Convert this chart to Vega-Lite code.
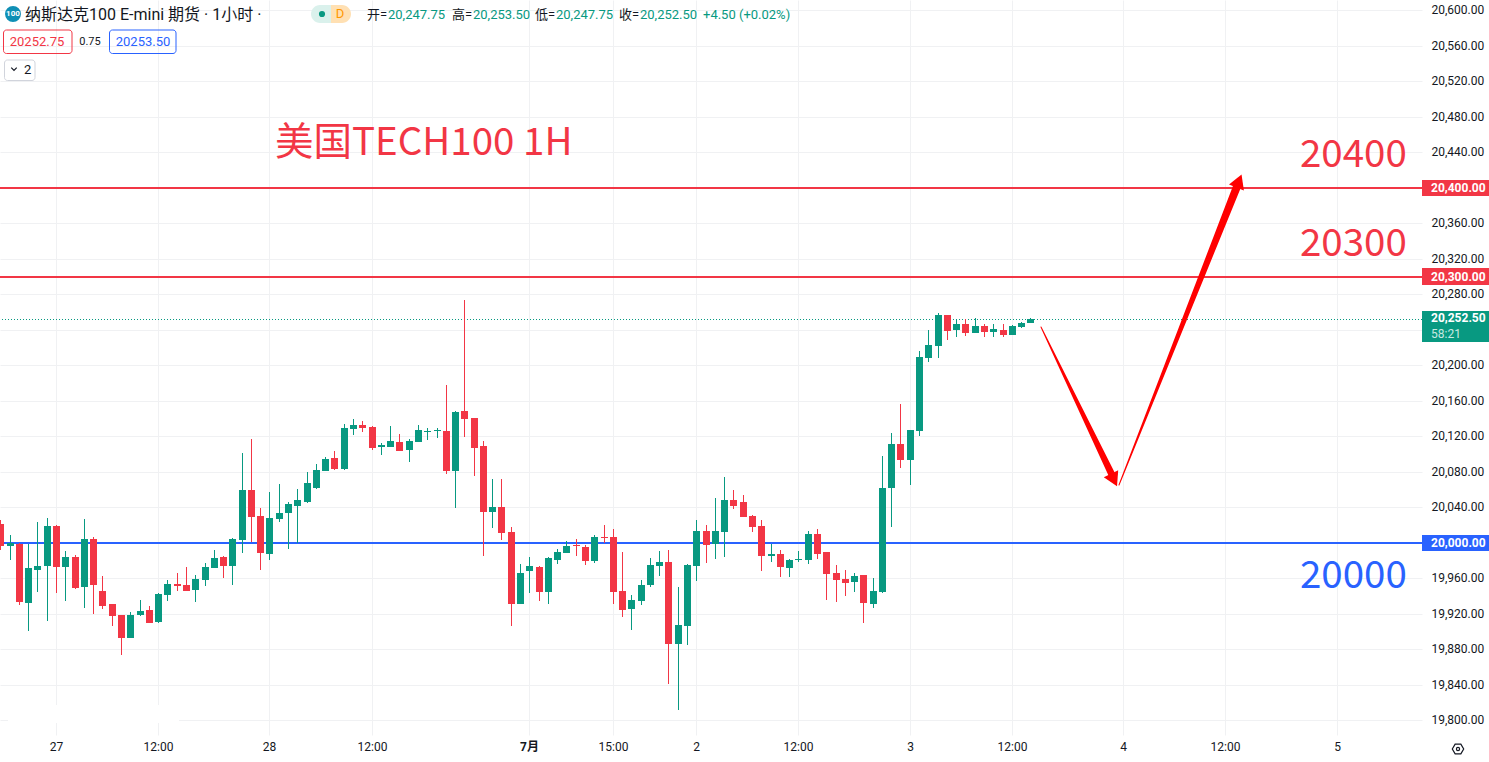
{"$schema":"https://vega.github.io/schema/vega-lite/v6.json","width":1422,"height":735,"autosize":{"type":"none"},"padding":{"left":0,"top":0,"right":67,"bottom":27},"background":"#ffffff","config":{"view":{"stroke":null},"text":{"font":"Roboto, 'Noto Sans CJK SC'"}},
"datasets":{
"candles":[
{"i":0,"o":20021.4,"h":20025.9,"l":19992.1,"c":19996.6,"dir":"down"},
{"i":1,"o":19996.6,"h":20009,"l":19980.8,"c":20000,"dir":"up"},
{"i":2,"o":19998.9,"h":19999.5,"l":19930.2,"c":19933.5,"dir":"down"},
{"i":3,"o":19932.4,"h":19998.9,"l":19900.8,"c":19971.8,"dir":"up"},
{"i":4,"o":19969.6,"h":20023.7,"l":19944.8,"c":19974.1,"dir":"up"},
{"i":5,"o":19974.1,"h":20028.2,"l":19912.1,"c":20019.2,"dir":"up"},
{"i":6,"o":20019.2,"h":20020.3,"l":19943.7,"c":19973,"dir":"down"},
{"i":7,"o":19973,"h":19991,"l":19934.6,"c":19984.2,"dir":"up"},
{"i":8,"o":19984.2,"h":19986.5,"l":19948.2,"c":19949.3,"dir":"down"},
{"i":9,"o":19950.4,"h":20027,"l":19926.8,"c":20004.5,"dir":"up"},
{"i":10,"o":20004.5,"h":20006.8,"l":19920,"c":19952.7,"dir":"down"},
{"i":11,"o":19945.9,"h":19962.8,"l":19925.6,"c":19929,"dir":"down"},
{"i":12,"o":19931.3,"h":19931.3,"l":19906.5,"c":19917.7,"dir":"down"},
{"i":13,"o":19918.9,"h":19918.9,"l":19873.8,"c":19893,"dir":"down"},
{"i":14,"o":19893,"h":19922.3,"l":19893,"c":19918.9,"dir":"up"},
{"i":15,"o":19918.9,"h":19935.8,"l":19917.7,"c":19923.4,"dir":"up"},
{"i":16,"o":19924.5,"h":19929,"l":19909.9,"c":19909.9,"dir":"down"},
{"i":17,"o":19911,"h":19943.7,"l":19909.9,"c":19942.5,"dir":"up"},
{"i":18,"o":19941.4,"h":19958.3,"l":19934.6,"c":19953.8,"dir":"up"},
{"i":19,"o":19953.8,"h":19966.2,"l":19945.9,"c":19951.5,"dir":"down"},
{"i":20,"o":19952.7,"h":19973,"l":19945.9,"c":19945.9,"dir":"down"},
{"i":21,"o":19947,"h":19964,"l":19933.5,"c":19959.4,"dir":"up"},
{"i":22,"o":19958.3,"h":19977.5,"l":19951.5,"c":19973,"dir":"up"},
{"i":23,"o":19971.8,"h":19992.1,"l":19971.8,"c":19983.1,"dir":"up"},
{"i":24,"o":19984.2,"h":19985.4,"l":19960.6,"c":19974.1,"dir":"down"},
{"i":25,"o":19974.1,"h":20005.6,"l":19952.7,"c":20004.5,"dir":"up"},
{"i":26,"o":20003.4,"h":20101.4,"l":19988.7,"c":20059.7,"dir":"up"},
{"i":27,"o":20059.7,"h":20117.2,"l":20001,"c":20029.3,"dir":"down"},
{"i":28,"o":20030.4,"h":20039.4,"l":19969.6,"c":19988.7,"dir":"down"},
{"i":29,"o":19987.6,"h":20057.5,"l":19980.8,"c":20028.2,"dir":"up"},
{"i":30,"o":20027,"h":20066.5,"l":20023.7,"c":20033.8,"dir":"up"},
{"i":31,"o":20033.8,"h":20046.2,"l":19993.2,"c":20044,"dir":"up"},
{"i":32,"o":20041.7,"h":20060.8,"l":20000,"c":20048.5,"dir":"up"},
{"i":33,"o":20046.2,"h":20080,"l":20045.1,"c":20067.6,"dir":"up"},
{"i":34,"o":20062,"h":20089,"l":20060.8,"c":20082.3,"dir":"up"},
{"i":35,"o":20081.1,"h":20096.9,"l":20081.1,"c":20094.6,"dir":"up"},
{"i":36,"o":20095.8,"h":20103.7,"l":20082.3,"c":20083.4,"dir":"down"},
{"i":37,"o":20083.4,"h":20134.1,"l":20082.3,"c":20129.6,"dir":"up"},
{"i":38,"o":20128.4,"h":20139.7,"l":20121.7,"c":20133,"dir":"up"},
{"i":39,"o":20133,"h":20137.5,"l":20125.1,"c":20129.6,"dir":"down"},
{"i":40,"o":20130.7,"h":20131.8,"l":20104.8,"c":20107,"dir":"down"},
{"i":41,"o":20108.5,"h":20112.7,"l":20099.2,"c":20109.9,"dir":"up"},
{"i":42,"o":20108.2,"h":20131.8,"l":20108.2,"c":20114.9,"dir":"up"},
{"i":43,"o":20113.8,"h":20122.8,"l":20103.7,"c":20103.7,"dir":"down"},
{"i":44,"o":20104.8,"h":20117.2,"l":20091.3,"c":20114.9,"dir":"up"},
{"i":45,"o":20113.8,"h":20133,"l":20113.8,"c":20127.3,"dir":"up"},
{"i":46,"o":20125.1,"h":20129.6,"l":20116.1,"c":20126.5,"dir":"up"},
{"i":47,"o":20126.2,"h":20129.6,"l":20118.3,"c":20127.6,"dir":"up"},
{"i":48,"o":20126.2,"h":20178,"l":20077.7,"c":20081.1,"dir":"down"},
{"i":49,"o":20081.1,"h":20148.7,"l":20039.4,"c":20147.6,"dir":"up"},
{"i":50,"o":20148.7,"h":20273.8,"l":20119.4,"c":20139.7,"dir":"down"},
{"i":51,"o":20140.8,"h":20140.8,"l":20075.5,"c":20107,"dir":"down"},
{"i":52,"o":20109.3,"h":20114.9,"l":19985.3,"c":20034.9,"dir":"down"},
{"i":53,"o":20034.9,"h":20072.1,"l":20016.9,"c":20040.6,"dir":"up"},
{"i":54,"o":20040.6,"h":20072.1,"l":20003.4,"c":20011.3,"dir":"down"},
{"i":55,"o":20012.4,"h":20018,"l":19906.5,"c":19931.3,"dir":"down"},
{"i":56,"o":19931.3,"h":19976.3,"l":19931.3,"c":19966.2,"dir":"up"},
{"i":57,"o":19968.4,"h":19984.2,"l":19943.7,"c":19974.1,"dir":"up"},
{"i":58,"o":19973,"h":19974.1,"l":19934.6,"c":19944.8,"dir":"down"},
{"i":59,"o":19944.8,"h":19984.2,"l":19931.3,"c":19983.1,"dir":"up"},
{"i":60,"o":19980.8,"h":19993.2,"l":19976.3,"c":19989.9,"dir":"up"},
{"i":61,"o":19988.7,"h":20002.2,"l":19988.7,"c":19996.6,"dir":"up"},
{"i":62,"o":19997.7,"h":20004.5,"l":19985.3,"c":19996.4,"dir":"down"},
{"i":63,"o":19995.5,"h":19997.7,"l":19975.2,"c":19979.7,"dir":"down"},
{"i":64,"o":19979.7,"h":20009,"l":19977.5,"c":20006.8,"dir":"up"},
{"i":65,"o":20006.8,"h":20020.3,"l":20000,"c":20005.4,"dir":"down"},
{"i":66,"o":20006.8,"h":20015.8,"l":19931.3,"c":19944.8,"dir":"down"},
{"i":67,"o":19945.9,"h":19989.9,"l":19916.6,"c":19924.5,"dir":"down"},
{"i":68,"o":19925.6,"h":19941.4,"l":19902,"c":19935.8,"dir":"up"},
{"i":69,"o":19934.6,"h":19958.3,"l":19930.2,"c":19952.7,"dir":"up"},
{"i":70,"o":19952.7,"h":19983.1,"l":19950.4,"c":19975.2,"dir":"up"},
{"i":71,"o":19974.1,"h":19991,"l":19962.8,"c":19978.6,"dir":"up"},
{"i":72,"o":19978.6,"h":19992.1,"l":19841.1,"c":19886.2,"dir":"down"},
{"i":73,"o":19886.2,"h":19950.4,"l":19811.8,"c":19907.6,"dir":"up"},
{"i":74,"o":19906.5,"h":19976.3,"l":19885,"c":19975.2,"dir":"up"},
{"i":75,"o":19974.1,"h":20025.9,"l":19957.2,"c":20013.5,"dir":"up"},
{"i":76,"o":20013.5,"h":20020.3,"l":19977.5,"c":19997.7,"dir":"down"},
{"i":77,"o":19998.9,"h":20050.7,"l":19982,"c":20013.5,"dir":"up"},
{"i":78,"o":20012.4,"h":20074.4,"l":19984.2,"c":20048.5,"dir":"up"},
{"i":79,"o":20048.5,"h":20059.7,"l":20038.3,"c":20041.7,"dir":"down"},
{"i":80,"o":20046.2,"h":20054.1,"l":20029.3,"c":20029.3,"dir":"down"},
{"i":81,"o":20030.4,"h":20031.6,"l":20012.4,"c":20018,"dir":"down"},
{"i":82,"o":20019.2,"h":20025.9,"l":19968.5,"c":19985.4,"dir":"down"},
{"i":83,"o":19985.4,"h":19998.9,"l":19978.6,"c":19987.6,"dir":"up"},
{"i":84,"o":19987.6,"h":19992.1,"l":19961.7,"c":19973,"dir":"down"},
{"i":85,"o":19971.8,"h":19982,"l":19961.7,"c":19980.8,"dir":"up"},
{"i":86,"o":19980.8,"h":19991,"l":19978.6,"c":19982.2,"dir":"up"},
{"i":87,"o":19980.8,"h":20013.5,"l":19976.4,"c":20010.1,"dir":"up"},
{"i":88,"o":20010.1,"h":20015.8,"l":19982,"c":19987.6,"dir":"down"},
{"i":89,"o":19989.9,"h":19989.9,"l":19935.8,"c":19965,"dir":"down"},
{"i":90,"o":19966.2,"h":19975.2,"l":19933.5,"c":19958.3,"dir":"down"},
{"i":91,"o":19959.4,"h":19969.6,"l":19940.3,"c":19954.9,"dir":"down"},
{"i":92,"o":19956,"h":19966.2,"l":19944.8,"c":19962.8,"dir":"up"},
{"i":93,"o":19964,"h":19964,"l":19909.9,"c":19932.4,"dir":"down"},
{"i":94,"o":19931.3,"h":19960.6,"l":19926.8,"c":19945.9,"dir":"up"},
{"i":95,"o":19944.8,"h":20098,"l":19943.7,"c":20062,"dir":"up"},
{"i":96,"o":20062,"h":20124,"l":20018,"c":20111.6,"dir":"up"},
{"i":97,"o":20111.6,"h":20156.6,"l":20084.5,"c":20093.5,"dir":"down"},
{"i":98,"o":20093.5,"h":20127.3,"l":20065.3,"c":20127.3,"dir":"up"},
{"i":99,"o":20126.2,"h":20216.3,"l":20120.6,"c":20209.6,"dir":"up"},
{"i":100,"o":20208.4,"h":20240,"l":20203.9,"c":20223.1,"dir":"up"},
{"i":101,"o":20222,"h":20259.2,"l":20208.4,"c":20256.9,"dir":"up"},
{"i":102,"o":20256.9,"h":20256.9,"l":20228.7,"c":20238.9,"dir":"down"},
{"i":103,"o":20240,"h":20251.3,"l":20232.1,"c":20246.8,"dir":"up"},
{"i":104,"o":20246.8,"h":20252.4,"l":20233.2,"c":20236.6,"dir":"down"},
{"i":105,"o":20236.6,"h":20253.5,"l":20236.6,"c":20244.5,"dir":"up"},
{"i":106,"o":20244.5,"h":20246.8,"l":20232.1,"c":20237.7,"dir":"down"},
{"i":107,"o":20237.7,"h":20246.8,"l":20232.1,"c":20241.1,"dir":"up"},
{"i":108,"o":20240,"h":20246.8,"l":20232.1,"c":20234.4,"dir":"down"},
{"i":109,"o":20234.4,"h":20245.6,"l":20234.4,"c":20244.5,"dir":"up"},
{"i":110,"o":20243.4,"h":20249,"l":20242.3,"c":20247.9,"dir":"up"},
{"i":111,"o":20247.75,"h":20253.5,"l":20247.75,"c":20252.5,"dir":"up"}
],
"levels":[{"p":20400,"role":"down"},{"p":20300,"role":"down"},{"p":20000,"role":"blue"}],
"last":[{"p":20252.5,"role":"up"}],
"patch":[{"a":0.8,"b":19.2,"p1":19797.2,"p2":19817.5,"role":"white"}],
"arrows":[
{"id":"a","n":1,"i":112.1,"p":20243.7,"w":0},
{"id":"a","n":2,"i":119.9,"p":20074,"w":7},
{"id":"b","n":1,"i":120.51,"p":20065.4,"w":0},
{"id":"b","n":2,"i":133.35,"p":20405,"w":8}
],
"headA":[{"i":120.04,"p":20071.3,"role":"arrow"}],
"headB":[{"i":133.47,"p":20407.9,"role":"arrow"}],
"tags":[
{"a":153.2,"b":160.5,"p1":20390.6,"p2":20409.4,"role":"down"},
{"a":153.2,"b":160.5,"p1":20290.6,"p2":20309.4,"role":"down"},
{"a":153.2,"b":160.5,"p1":19990.6,"p2":20009.4,"role":"blue"},
{"a":153.2,"b":160.5,"p1":20226.8,"p2":20261.4,"role":"up"}
],
"pillL":[{"a":33.47,"b":35.63,"p1":20585.9,"p2":20606.2,"role":"pillL"}],
"pillR":[{"a":35.63,"b":37.78,"p1":20585.9,"p2":20606.2,"role":"pillR"}],
"boxes":[
{"a":0.28,"b":7.72,"p1":20552.1,"p2":20578,"role":"down"},
{"a":11.7,"b":18.92,"p1":20552.1,"p2":20578,"role":"blue"},
{"a":0.39,"b":3.73,"p1":20521.7,"p2":20544.2,"role":"box"}
],
"tagText":[
{"i":154.16,"p":20400,"label":"20,400.00"},
{"i":154.16,"p":20300,"label":"20,300.00"},
{"i":154.16,"p":20000,"label":"20,000.00"},
{"i":154.16,"p":20253.6,"label":"20,252.50"}
],
"bigText":[
{"i":29.59,"p":20450.7,"label":"美国TECH100 1H","role":"down"},
{"i":140.1,"p":20437.1,"label":"20400","role":"down"},
{"i":140.1,"p":20337,"label":"20300","role":"down"},
{"i":140.1,"p":19962.8,"label":"20000","role":"blue"}
],
"titleText":[{"i":2.65,"p":20594.9,"label":"纳斯达克100 E-mini 期货 · 1小时 ·","role":"ink"}],
"ohlcText":[
{"i":39.5,"p":20594.9,"label":"开=","role":"ink"},
{"i":41.8,"p":20594.9,"label":"20,247.75","role":"up"},
{"i":48.7,"p":20594.9,"label":"高=","role":"ink"},
{"i":50.9,"p":20594.9,"label":"20,253.50","role":"up"},
{"i":57.6,"p":20594.9,"label":"低=","role":"ink"},
{"i":59.9,"p":20594.9,"label":"20,247.75","role":"up"},
{"i":66.7,"p":20594.9,"label":"收=","role":"ink"},
{"i":68.9,"p":20594.9,"label":"20,252.50","role":"up"},
{"i":75.7,"p":20594.9,"label":"+4.50 (+0.02%)","role":"up"},
{"i":2.5,"p":20532.9,"label":"2","role":"ink"}
],
"boxText":[
{"i":4.0,"p":20564.5,"label":"20252.75","role":"down"},
{"i":15.37,"p":20564.5,"label":"20253.50","role":"blue"},
{"i":36.6,"p":20596,"label":"D","role":"orange"}
],
"smallText":[{"i":9.65,"p":20564.5,"label":"0.75","role":"ink"}],
"timerText":[{"i":154.16,"p":20235.4,"label":"58:21","role":"mint"}],
"iconText":[{"i":1.36,"p":20595.5,"label":"100","role":"white"}],
"bigDot":[{"i":1.36,"p":20595.5,"role":"icon"}],
"smallDot":[{"i":34.66,"p":20596,"role":"up"}],
"chev":[{"i":1.45,"p":20533.5,"role":"ink"}],
"gear":[{"i":157.07,"p":19767.9,"role":"ink"}]
},
"layer":[
{"data":{"name":"levels"},"mark":{"type":"rule","strokeWidth":0,"opacity":0},
"encoding":{
"x":{"datum":0,"type":"quantitative","scale":{"domain":[-0.04,153.2],"round":true,"nice":false,"padding":0},"title":null,
"axis":{"values":[6,17,29,40,57,66,75,86,98,109,121,132,144],"labelExpr":"({'6':'27','17':'12:00','29':'28','40':'12:00','57':'7月','66':'15:00','75':'2','86':'12:00','98':'3','109':'12:00','121':'4','132':'12:00','144':'5'})[datum.value]","tickCount":30,"grid":true,"gridColor":"#f0f1f3","gridWidth":1,"domain":false,"ticks":false,"labelPadding":6,"labelFont":"Roboto, 'Noto Sans CJK SC'","labelFontSize":12,"labelColor":"#131722","labelFontWeight":{"condition":{"test":"datum.value==57","value":"bold"},"value":"normal"},"labelOverlap":false,"labelBound":false,"labelFlush":false,"title":null}},
"y":{"field":"p","type":"quantitative","scale":{"domain":[19783.66,20611.8],"nice":false,"zero":false,"round":true},"title":null,
"axis":{"orient":"right","values":[19800,19840,19880,19920,19960,20000,20040,20080,20120,20160,20200,20240,20280,20320,20360,20400,20440,20480,20520,20560,20600],"tickCount":30,"format":",.2f","grid":true,"gridColor":"#f0f1f3","gridWidth":1,"domain":false,"ticks":false,"labelPadding":9,"labelOffset":-1,"labelFont":"Roboto","labelFontSize":12,"labelColor":"#131722","labelOverlap":false,"labelBound":false,"labelFlush":false,"title":null}}}},
{"data":{"name":"patch"},"mark":{"type":"rect"},"encoding":{"x":{"field":"a","type":"quantitative","scale":{"domain":[-0.04,153.2],"round":true,"nice":false,"padding":0}},"x2":{"field":"b"},"y":{"field":"p1","type":"quantitative","scale":{"domain":[19783.66,20611.8],"nice":false,"zero":false,"round":true}},"y2":{"field":"p2"},"color":{"field":"role","type":"nominal","legend":null,"scale":{"domain":["up","down","blue","ink","white","mint","pillL","pillR","orange","icon","box","arrow"],"range":["#089981","#F23645","#2962FF","#131722","#ffffff","#c8e9e2","#daf1ec","#ffe0b3","#FF9800","#0f8fb5","#d1d4dc","#FF0000"]}}}},
{"data":{"name":"levels"},"mark":{"type":"rule","strokeWidth":2},"encoding":{"y":{"field":"p","type":"quantitative","scale":{"domain":[19783.66,20611.8],"nice":false,"zero":false,"round":true}},"color":{"field":"role","type":"nominal","legend":null}}},
{"data":{"name":"last"},"mark":{"type":"rule","strokeWidth":1,"strokeDash":[1,2],"yOffset":0.5},"encoding":{"y":{"field":"p","type":"quantitative","scale":{"domain":[19783.66,20611.8],"nice":false,"zero":false,"round":true}},"color":{"field":"role","type":"nominal","legend":null}}},
{"data":{"name":"candles"},"mark":{"type":"rule","strokeWidth":1,"xOffset":0.5},"encoding":{"x":{"field":"i","type":"quantitative","scale":{"domain":[-0.04,153.2],"round":true,"nice":false,"padding":0}},"y":{"field":"l","type":"quantitative","scale":{"domain":[19783.66,20611.8],"nice":false,"zero":false,"round":true}},"y2":{"field":"h"},"color":{"field":"dir","type":"nominal","legend":null}}},
{"data":{"name":"candles"},"mark":{"type":"bar","size":7,"xOffset":0.5},"encoding":{"x":{"field":"i","type":"quantitative","scale":{"domain":[-0.04,153.2],"round":true,"nice":false,"padding":0}},"y":{"field":"o","type":"quantitative","scale":{"domain":[19783.66,20611.8],"nice":false,"zero":false,"round":true}},"y2":{"field":"c"},"color":{"field":"dir","type":"nominal","legend":null}}},
{"data":{"name":"arrows"},"mark":{"type":"trail"},"encoding":{"x":{"field":"i","type":"quantitative","scale":{"domain":[-0.04,153.2],"round":true,"nice":false,"padding":0}},"y":{"field":"p","type":"quantitative","scale":{"domain":[19783.66,20611.8],"nice":false,"zero":false,"round":true}},"order":{"field":"n","type":"quantitative"},"detail":{"field":"id","type":"nominal"},"size":{"field":"w","type":"quantitative","scale":null},"color":{"datum":"arrow","type":"nominal","legend":null}}},
{"data":{"name":"headA"},"mark":{"type":"point","shape":"triangle-up","filled":true,"size":256,"angle":154.3,"opacity":1},"encoding":{"x":{"field":"i","type":"quantitative","scale":{"domain":[-0.04,153.2],"round":true,"nice":false,"padding":0}},"y":{"field":"p","type":"quantitative","scale":{"domain":[19783.66,20611.8],"nice":false,"zero":false,"round":true}},"color":{"field":"role","type":"nominal","legend":null}}},
{"data":{"name":"headB"},"mark":{"type":"point","shape":"triangle-up","filled":true,"size":256,"angle":21.6,"opacity":1},"encoding":{"x":{"field":"i","type":"quantitative","scale":{"domain":[-0.04,153.2],"round":true,"nice":false,"padding":0}},"y":{"field":"p","type":"quantitative","scale":{"domain":[19783.66,20611.8],"nice":false,"zero":false,"round":true}},"color":{"field":"role","type":"nominal","legend":null}}},
{"data":{"name":"tags"},"mark":{"type":"rect"},"encoding":{"x":{"field":"a","type":"quantitative","scale":{"domain":[-0.04,153.2],"round":true,"nice":false,"padding":0}},"x2":{"field":"b"},"y":{"field":"p1","type":"quantitative","scale":{"domain":[19783.66,20611.8],"nice":false,"zero":false,"round":true}},"y2":{"field":"p2"},"color":{"field":"role","type":"nominal","legend":null}}},
{"data":{"name":"pillL"},"mark":{"type":"rect","cornerRadiusTopLeft":9,"cornerRadiusBottomLeft":9},"encoding":{"x":{"field":"a","type":"quantitative","scale":{"domain":[-0.04,153.2],"round":true,"nice":false,"padding":0}},"x2":{"field":"b"},"y":{"field":"p1","type":"quantitative","scale":{"domain":[19783.66,20611.8],"nice":false,"zero":false,"round":true}},"y2":{"field":"p2"},"color":{"field":"role","type":"nominal","legend":null}}},
{"data":{"name":"pillR"},"mark":{"type":"rect","cornerRadiusTopRight":9,"cornerRadiusBottomRight":9},"encoding":{"x":{"field":"a","type":"quantitative","scale":{"domain":[-0.04,153.2],"round":true,"nice":false,"padding":0}},"x2":{"field":"b"},"y":{"field":"p1","type":"quantitative","scale":{"domain":[19783.66,20611.8],"nice":false,"zero":false,"round":true}},"y2":{"field":"p2"},"color":{"field":"role","type":"nominal","legend":null}}},
{"data":{"name":"boxes"},"mark":{"type":"rect","filled":false,"cornerRadius":3,"strokeWidth":1,"xOffset":0.5,"yOffset":0.5},"encoding":{"x":{"field":"a","type":"quantitative","scale":{"domain":[-0.04,153.2],"round":true,"nice":false,"padding":0}},"x2":{"field":"b"},"y":{"field":"p1","type":"quantitative","scale":{"domain":[19783.66,20611.8],"nice":false,"zero":false,"round":true}},"y2":{"field":"p2"},"color":{"field":"role","type":"nominal","legend":null}}},
{"data":{"name":"tagText"},"mark":{"type":"text","align":"left","baseline":"middle","fontWeight":"bold","fontSize":12,"font":"Roboto","color":"#ffffff"},"encoding":{"x":{"field":"i","type":"quantitative","scale":{"domain":[-0.04,153.2],"round":true,"nice":false,"padding":0}},"y":{"field":"p","type":"quantitative","scale":{"domain":[19783.66,20611.8],"nice":false,"zero":false,"round":true}},"text":{"field":"label"}}},
{"data":{"name":"timerText"},"mark":{"type":"text","align":"left","baseline":"middle","fontSize":12,"font":"Roboto"},"encoding":{"x":{"field":"i","type":"quantitative","scale":{"domain":[-0.04,153.2],"round":true,"nice":false,"padding":0}},"y":{"field":"p","type":"quantitative","scale":{"domain":[19783.66,20611.8],"nice":false,"zero":false,"round":true}},"text":{"field":"label"},"color":{"field":"role","type":"nominal","legend":null}}},
{"data":{"name":"bigText"},"mark":{"type":"text","align":"left","baseline":"middle","fontSize":38.5,"font":"Noto Sans CJK SC"},"encoding":{"x":{"field":"i","type":"quantitative","scale":{"domain":[-0.04,153.2],"round":true,"nice":false,"padding":0}},"y":{"field":"p","type":"quantitative","scale":{"domain":[19783.66,20611.8],"nice":false,"zero":false,"round":true}},"text":{"field":"label"},"color":{"field":"role","type":"nominal","legend":null}}},
{"data":{"name":"titleText"},"mark":{"type":"text","align":"left","baseline":"middle","fontSize":16,"font":"Roboto, 'Noto Sans CJK SC'"},"encoding":{"x":{"field":"i","type":"quantitative","scale":{"domain":[-0.04,153.2],"round":true,"nice":false,"padding":0}},"y":{"field":"p","type":"quantitative","scale":{"domain":[19783.66,20611.8],"nice":false,"zero":false,"round":true}},"text":{"field":"label"},"color":{"field":"role","type":"nominal","legend":null}}},
{"data":{"name":"ohlcText"},"mark":{"type":"text","align":"left","baseline":"middle","fontSize":13,"font":"Roboto, 'Noto Sans CJK SC'"},"encoding":{"x":{"field":"i","type":"quantitative","scale":{"domain":[-0.04,153.2],"round":true,"nice":false,"padding":0}},"y":{"field":"p","type":"quantitative","scale":{"domain":[19783.66,20611.8],"nice":false,"zero":false,"round":true}},"text":{"field":"label"},"color":{"field":"role","type":"nominal","legend":null}}},
{"data":{"name":"boxText"},"mark":{"type":"text","align":"center","baseline":"middle","fontSize":13,"font":"Roboto"},"encoding":{"x":{"field":"i","type":"quantitative","scale":{"domain":[-0.04,153.2],"round":true,"nice":false,"padding":0}},"y":{"field":"p","type":"quantitative","scale":{"domain":[19783.66,20611.8],"nice":false,"zero":false,"round":true}},"text":{"field":"label"},"color":{"field":"role","type":"nominal","legend":null}}},
{"data":{"name":"smallText"},"mark":{"type":"text","align":"center","baseline":"middle","fontSize":11,"font":"Roboto"},"encoding":{"x":{"field":"i","type":"quantitative","scale":{"domain":[-0.04,153.2],"round":true,"nice":false,"padding":0}},"y":{"field":"p","type":"quantitative","scale":{"domain":[19783.66,20611.8],"nice":false,"zero":false,"round":true}},"text":{"field":"label"},"color":{"field":"role","type":"nominal","legend":null}}},
{"data":{"name":"bigDot"},"mark":{"type":"point","filled":true,"shape":"circle","size":254,"opacity":1},"encoding":{"x":{"field":"i","type":"quantitative","scale":{"domain":[-0.04,153.2],"round":true,"nice":false,"padding":0}},"y":{"field":"p","type":"quantitative","scale":{"domain":[19783.66,20611.8],"nice":false,"zero":false,"round":true}},"color":{"field":"role","type":"nominal","legend":null}}},
{"data":{"name":"iconText"},"mark":{"type":"text","align":"center","baseline":"middle","fontSize":8,"fontWeight":"bold","font":"Roboto"},"encoding":{"x":{"field":"i","type":"quantitative","scale":{"domain":[-0.04,153.2],"round":true,"nice":false,"padding":0}},"y":{"field":"p","type":"quantitative","scale":{"domain":[19783.66,20611.8],"nice":false,"zero":false,"round":true}},"text":{"field":"label"},"color":{"field":"role","type":"nominal","legend":null}}},
{"data":{"name":"smallDot"},"mark":{"type":"point","filled":true,"shape":"circle","size":38,"opacity":1},"encoding":{"x":{"field":"i","type":"quantitative","scale":{"domain":[-0.04,153.2],"round":true,"nice":false,"padding":0}},"y":{"field":"p","type":"quantitative","scale":{"domain":[19783.66,20611.8],"nice":false,"zero":false,"round":true}},"color":{"field":"role","type":"nominal","legend":null}}},
{"data":{"name":"chev"},"mark":{"type":"point","filled":false,"shape":"M-1,-0.5L0,0.5L1,-0.5","size":30,"strokeWidth":1.2,"opacity":1},"encoding":{"x":{"field":"i","type":"quantitative","scale":{"domain":[-0.04,153.2],"round":true,"nice":false,"padding":0}},"y":{"field":"p","type":"quantitative","scale":{"domain":[19783.66,20611.8],"nice":false,"zero":false,"round":true}},"color":{"field":"role","type":"nominal","legend":null}}},
{"data":{"name":"gear"},"mark":{"type":"point","filled":false,"shape":"M-1,0L-0.5,-0.85L0.5,-0.85L1,0L0.5,0.85L-0.5,0.85Z","size":130,"strokeWidth":1.2,"opacity":1},"encoding":{"x":{"field":"i","type":"quantitative","scale":{"domain":[-0.04,153.2],"round":true,"nice":false,"padding":0}},"y":{"field":"p","type":"quantitative","scale":{"domain":[19783.66,20611.8],"nice":false,"zero":false,"round":true}},"color":{"field":"role","type":"nominal","legend":null}}},
{"data":{"name":"gear"},"mark":{"type":"point","filled":false,"shape":"circle","size":10,"strokeWidth":1.2,"opacity":1},"encoding":{"x":{"field":"i","type":"quantitative","scale":{"domain":[-0.04,153.2],"round":true,"nice":false,"padding":0}},"y":{"field":"p","type":"quantitative","scale":{"domain":[19783.66,20611.8],"nice":false,"zero":false,"round":true}},"color":{"field":"role","type":"nominal","legend":null}}}
]}
